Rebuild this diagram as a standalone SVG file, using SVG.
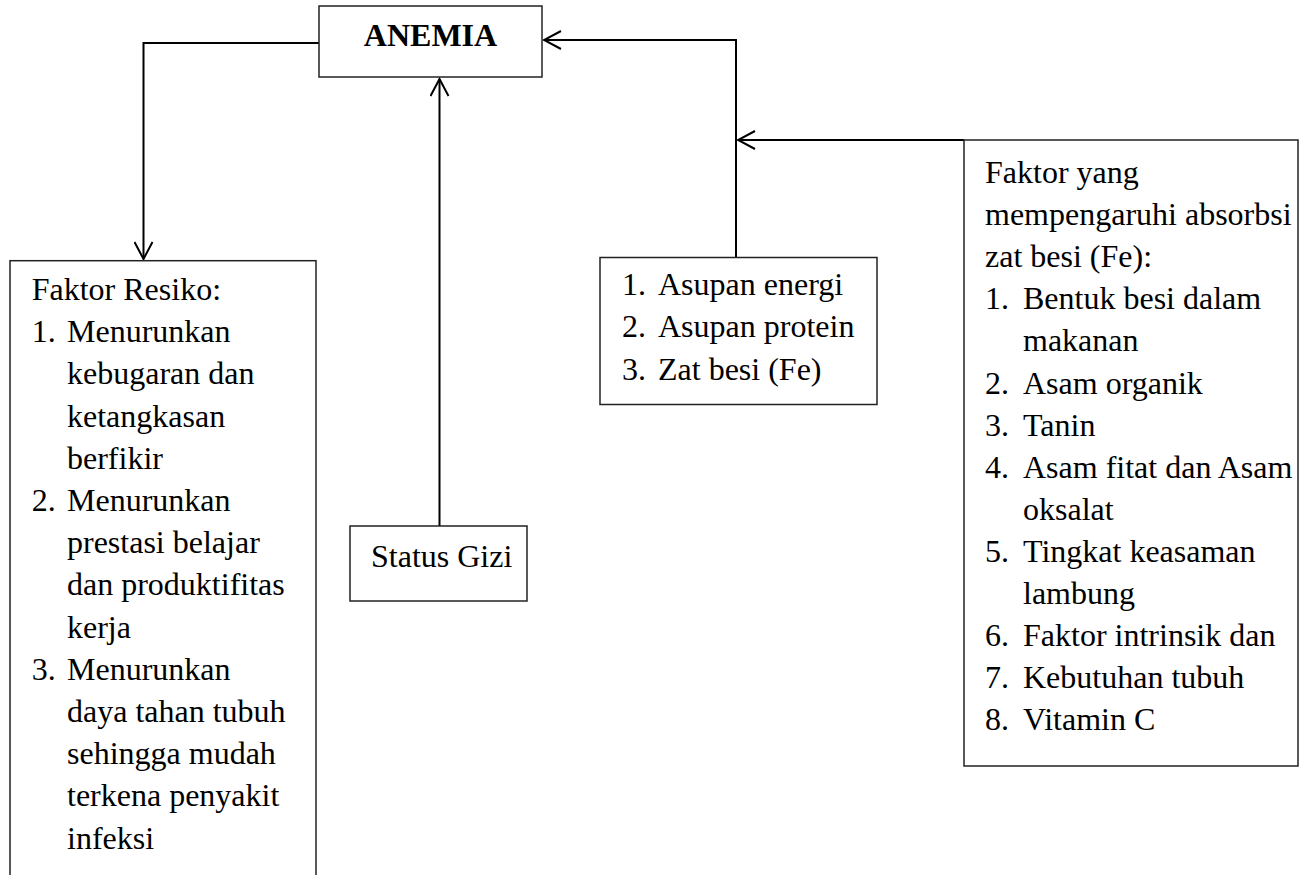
<svg xmlns="http://www.w3.org/2000/svg" width="1305" height="875" viewBox="0 0 1305 875">
<style>
  .box { fill: #ffffff; stroke: #222222; stroke-width: 1.5; }
  .t { font-family: "Liberation Serif", "Times New Roman", serif; font-size: 32px; fill: #000000; }
  .b { font-weight: bold; }
  .conn { fill: none; stroke: #000000; stroke-width: 2; }
</style>
<defs>
  <marker id="arrow" viewBox="0 0 20 20" refX="18" refY="10" markerWidth="20" markerHeight="20" markerUnits="userSpaceOnUse" orient="auto">
    <path d="M1,1 L18,10 L1,19" fill="none" stroke="#000000" stroke-width="2"/>
  </marker>
</defs>
<rect width="1305" height="875" fill="#ffffff"/>

<g id="connectors">
  <path class="conn" d="M319,43 H143.5 V259" marker-end="url(#arrow)"/>
  <path class="conn" d="M439.5,526 V79" marker-end="url(#arrow)"/>
  <path class="conn" d="M736,257.5 V40 H544" marker-end="url(#arrow)"/>
  <path class="conn" d="M964,140 H738" marker-end="url(#arrow)"/>
</g>

<g id="anemia">
  <rect class="box" x="319" y="6" width="223" height="71"/>
  <text class="t b" x="430.5" y="45.7" text-anchor="middle">ANEMIA</text>
</g>

<g id="faktor-resiko">
  <rect class="box" x="10" y="260.7" width="306" height="700"/>
  <text class="t" x="31.7" y="300">Faktor Resiko:</text>
  <text class="t" x="31.7" y="342.2">1.</text>
  <text class="t" x="67" y="342.2">Menurunkan</text>
  <text class="t" x="67" y="384.4">kebugaran dan</text>
  <text class="t" x="67" y="426.6">ketangkasan</text>
  <text class="t" x="67" y="468.8">berfikir</text>
  <text class="t" x="31.7" y="511">2.</text>
  <text class="t" x="67" y="511">Menurunkan</text>
  <text class="t" x="67" y="553.2">prestasi belajar</text>
  <text class="t" x="67" y="595.4">dan produktifitas</text>
  <text class="t" x="67" y="637.6">kerja</text>
  <text class="t" x="31.7" y="679.8">3.</text>
  <text class="t" x="67" y="679.8">Menurunkan</text>
  <text class="t" x="67" y="722">daya tahan tubuh</text>
  <text class="t" x="67" y="764.2">sehingga mudah</text>
  <text class="t" x="67" y="806.4">terkena penyakit</text>
  <text class="t" x="67" y="848.6">infeksi</text>
</g>

<g id="status-gizi">
  <rect class="box" x="350" y="526" width="177" height="75"/>
  <text class="t" x="371" y="567">Status Gizi</text>
</g>

<g id="asupan">
  <rect class="box" x="600" y="257.5" width="277" height="147"/>
  <text class="t" x="622" y="295">1.</text>
  <text class="t" x="658" y="295">Asupan energi</text>
  <text class="t" x="622" y="337.3">2.</text>
  <text class="t" x="658" y="337.3">Asupan protein</text>
  <text class="t" x="622" y="379.6">3.</text>
  <text class="t" x="658" y="379.6">Zat besi (Fe)</text>
</g>

<g id="faktor-absorbsi">
  <rect class="box" x="964" y="140" width="334" height="626"/>
  <text class="t" x="985" y="183">Faktor yang</text>
  <text class="t" x="985" y="225.1">mempengaruhi absorbsi</text>
  <text class="t" x="985" y="267.2">zat besi (Fe):</text>
  <text class="t" x="985" y="309.3">1.</text>
  <text class="t" x="1023" y="309.3">Bentuk besi dalam</text>
  <text class="t" x="1023" y="351.4">makanan</text>
  <text class="t" x="985" y="393.5">2.</text>
  <text class="t" x="1023" y="393.5">Asam organik</text>
  <text class="t" x="985" y="435.6">3.</text>
  <text class="t" x="1023" y="435.6">Tanin</text>
  <text class="t" x="985" y="477.7">4.</text>
  <text class="t" x="1023" y="477.7">Asam fitat dan Asam</text>
  <text class="t" x="1023" y="519.8">oksalat</text>
  <text class="t" x="985" y="561.9">5.</text>
  <text class="t" x="1023" y="561.9">Tingkat keasaman</text>
  <text class="t" x="1023" y="604">lambung</text>
  <text class="t" x="985" y="646.1">6.</text>
  <text class="t" x="1023" y="646.1">Faktor intrinsik dan</text>
  <text class="t" x="985" y="688.2">7.</text>
  <text class="t" x="1023" y="688.2">Kebutuhan tubuh</text>
  <text class="t" x="985" y="730.3">8.</text>
  <text class="t" x="1023" y="730.3">Vitamin C</text>
</g>
</svg>
